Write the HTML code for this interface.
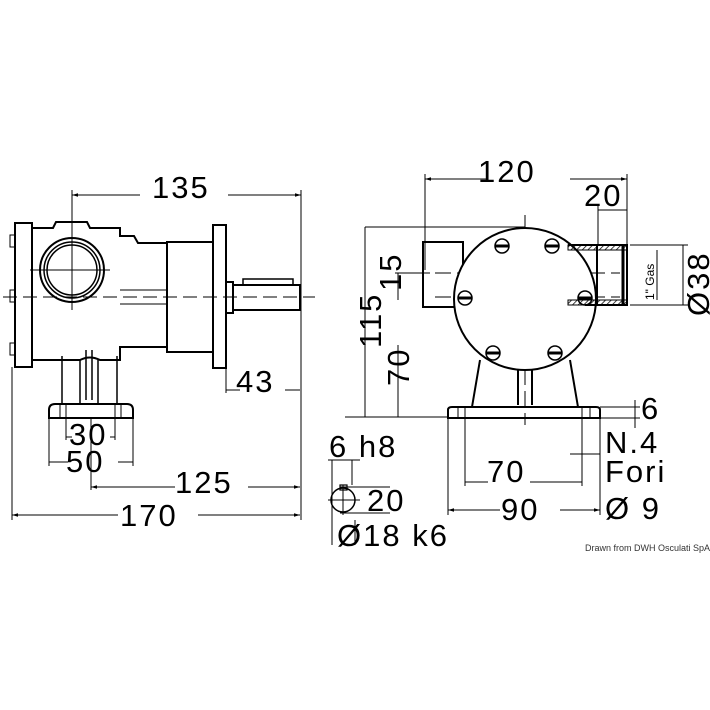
<!DOCTYPE html>
<html><head><style>html,body{margin:0;padding:0;background:#fff}svg{display:block}</style></head>
<body>
<svg width="710" height="710" viewBox="0 0 710 710" xmlns="http://www.w3.org/2000/svg" font-family="Liberation Sans, sans-serif">
<defs>
<pattern id="h" width="4" height="4" patternUnits="userSpaceOnUse" patternTransform="rotate(45)"><line x1="0" y1="0" x2="0" y2="4" stroke="#000" stroke-width="1.5"/></pattern>
<marker id="a" viewBox="0 0 10 10" refX="10" refY="5" markerWidth="8" markerHeight="6" orient="auto-start-reverse"><path d="M0,2 L10,5 L0,8z" fill="#000"/></marker>
</defs>
<rect width="710" height="710" fill="#fff"/>
<g stroke="#000" fill="none" stroke-width="1">
<line x1="72" y1="195" x2="140" y2="195" marker-start="url(#a)"/>
<line x1="228" y1="195" x2="301" y2="195" marker-end="url(#a)"/>
<line x1="72" y1="190" x2="72" y2="310"/>
<line x1="301" y1="190" x2="301" y2="520"/>
<line x1="12" y1="367" x2="12" y2="520"/>
<line x1="12" y1="515" x2="118" y2="515" marker-start="url(#a)"/>
<line x1="198" y1="515" x2="300" y2="515" marker-end="url(#a)"/>
<line x1="91" y1="487" x2="175" y2="487" marker-start="url(#a)"/>
<line x1="248" y1="487" x2="300" y2="487" marker-end="url(#a)"/>
<line x1="91" y1="418" x2="91" y2="490"/>
<line x1="49" y1="418" x2="49" y2="466"/><line x1="133" y1="418" x2="133" y2="466"/>
<line x1="49" y1="462" x2="68" y2="462"/><line x1="118" y1="462" x2="133" y2="462"/>
<line x1="66" y1="410" x2="66" y2="440"/><line x1="115" y1="410" x2="115" y2="440"/>
<line x1="66" y1="437" x2="72" y2="437"/><line x1="110" y1="437" x2="115" y2="437"/>
<line x1="226" y1="368" x2="226" y2="393"/>
<line x1="226" y1="390" x2="240" y2="390"/><line x1="285" y1="390" x2="300" y2="390"/>
<line x1="3" y1="297" x2="315" y2="297" stroke-dasharray="14,6"/>
<line x1="30" y1="270" x2="110" y2="270"/>
<rect x="15" y="223" width="17" height="144" stroke-width="2"/>
<path d="M32 228 H53 L56 222 H87 L90 228 H120 V236 H134 L138 243 H167 V347 H120 V360 H100 Q90 355 80 360 H32" stroke-width="2"/>
<circle cx="72" cy="270" r="32" stroke-width="2"/>
<circle cx="72" cy="270" r="28" stroke-width="1.5"/>
<circle cx="72" cy="270" r="25" stroke-width="1.5"/>
<rect x="167" y="242" width="46" height="110" stroke-width="2"/>
<rect x="213" y="225" width="13" height="143" stroke-width="2"/>
<rect x="226" y="282" width="7" height="31" stroke-width="2"/>
<rect x="233" y="285" width="67" height="25" stroke-width="2"/>
<path d="M243 285 V279 H293 V285" stroke-width="1.5"/>
<line x1="120" y1="290" x2="167" y2="290"/><line x1="120" y1="304" x2="167" y2="304"/>
<path d="M62 356 V404 M117 356 V404 M80 360 V404 M98 360 V404 M86 350 V400 M92 350 V400" stroke-width="1.5"/>
<path d="M49 418 V410 Q49 404 55 404 H127 Q133 404 133 410 V418 Z" stroke-width="2"/>
<line x1="60" y1="404" x2="60" y2="418"/><line x1="66" y1="404" x2="66" y2="418"/><line x1="115" y1="404" x2="115" y2="418"/><line x1="121" y1="404" x2="121" y2="418"/>
<rect x="10" y="235" width="5" height="12"/><rect x="10" y="290" width="5" height="12"/><rect x="10" y="343" width="5" height="12"/>
<line x1="425" y1="179" x2="488" y2="179" marker-start="url(#a)"/>
<line x1="570" y1="179" x2="627" y2="179" marker-end="url(#a)"/>
<line x1="425" y1="174" x2="425" y2="270"/><line x1="627" y1="174" x2="627" y2="245"/>
<line x1="598" y1="210" x2="627" y2="210"/><line x1="598" y1="205" x2="598" y2="245"/>
<line x1="365" y1="227" x2="525" y2="227"/>
<line x1="365" y1="227" x2="365" y2="417"/>
<line x1="345" y1="417" x2="448" y2="417"/>
<line x1="398" y1="273" x2="398" y2="300"/><line x1="398" y1="345" x2="398" y2="417"/>
<line x1="395" y1="273" x2="430" y2="273"/>
<line x1="683" y1="245" x2="683" y2="305"/><line x1="630" y1="245" x2="688" y2="245"/><line x1="630" y1="305" x2="688" y2="305"/>
<line x1="657" y1="250" x2="657" y2="300"/>
<line x1="635" y1="400" x2="635" y2="428"/><line x1="600" y1="407" x2="640" y2="407"/><line x1="600" y1="418" x2="640" y2="418"/>
<line x1="448" y1="418" x2="448" y2="515"/><line x1="600" y1="418" x2="600" y2="515"/>
<line x1="465" y1="418" x2="465" y2="486"/><line x1="582" y1="418" x2="582" y2="486"/>
<line x1="465" y1="482" x2="488" y2="482"/><line x1="530" y1="482" x2="582" y2="482"/>
<line x1="448" y1="510" x2="500" y2="510" marker-start="url(#a)"/><line x1="560" y1="510" x2="600" y2="510" marker-end="url(#a)"/>
<line x1="570" y1="454" x2="600" y2="454"/>
<line x1="525" y1="215" x2="525" y2="425" stroke-dasharray="16,6"/>
<line x1="435" y1="273" x2="620" y2="273" stroke-dasharray="16,6"/>
<line x1="435" y1="297" x2="620" y2="297" stroke-dasharray="16,6"/>
<rect x="423" y="242" width="40" height="65" stroke-width="2"/>
<path d="M480 360 L472 407 M570 360 L578 407 M518 370 V405 M532 370 V405" stroke-width="2"/>
<circle cx="525" cy="299" r="71" fill="#fff" stroke-width="2"/>
<rect x="568" y="245" width="59" height="5" fill="url(#h)"/>
<rect x="568" y="300" width="59" height="5" fill="url(#h)"/>
<path d="M568 245 H627 V305 H585" stroke-width="2"/>
<line x1="597" y1="245" x2="597" y2="305" stroke-width="2"/>
<line x1="623" y1="245" x2="623" y2="305" stroke-width="3"/>
<path d="M448 418 V410 Q448 407 452 407 H596 Q600 407 600 410 V418 Z" stroke-width="2"/>
<line x1="458" y1="407" x2="458" y2="418"/><line x1="465" y1="407" x2="465" y2="418"/><line x1="582" y1="407" x2="582" y2="418"/><line x1="590" y1="407" x2="590" y2="418"/>
<g stroke-width="1.5">
<ellipse cx="502" cy="246" rx="7" ry="7"/><line x1="495" y1="246" x2="509" y2="246" stroke-width="3"/>
<ellipse cx="552" cy="246" rx="7" ry="7"/><line x1="545" y1="246" x2="559" y2="246" stroke-width="3"/>
<ellipse cx="465" cy="298" rx="7" ry="7"/><line x1="458" y1="298" x2="472" y2="298" stroke-width="3"/>
<ellipse cx="585" cy="298" rx="7" ry="7"/><line x1="578" y1="298" x2="592" y2="298" stroke-width="3"/>
<ellipse cx="493" cy="353" rx="7" ry="7"/><line x1="486" y1="353" x2="500" y2="353" stroke-width="3"/>
<ellipse cx="555" cy="353" rx="7" ry="7"/><line x1="548" y1="353" x2="562" y2="353" stroke-width="3"/>
</g>
<circle cx="343" cy="500" r="12" stroke-width="1.5"/>
<rect x="340" y="485" width="7" height="5" stroke-width="1.2"/>
<line x1="328" y1="500" x2="360" y2="500"/><line x1="343" y1="485" x2="343" y2="515"/>
<line x1="332" y1="460" x2="332" y2="545"/><line x1="352" y1="460" x2="352" y2="485"/>
<line x1="328" y1="460" x2="360" y2="460"/>
<line x1="340" y1="487" x2="390" y2="487"/><line x1="340" y1="513" x2="390" y2="513"/>
<line x1="355" y1="520" x2="355" y2="545"/>
</g>
<g font-size="31" fill="#000" letter-spacing="2">
<text x="152" y="198">135</text>
<text x="478" y="182">120</text>
<text x="584" y="206">20</text>
<text x="236" y="392">43</text>
<text x="69" y="445">30</text>
<text x="66" y="472">50</text>
<text x="175" y="493">125</text>
<text x="120" y="526">170</text>
<text x="487" y="482">70</text>
<text x="501" y="520">90</text>
<text x="641" y="419">6</text>
<text x="605" y="453">N.4</text>
<text x="605" y="482">Fori</text>
<text x="605" y="519">Ø 9</text>
<text x="329" y="457">6 h8</text>
<text x="367" y="511">20</text>
<text x="337" y="546">Ø18 k6</text>
<text transform="translate(381,348) rotate(-90)">115</text>
<text transform="translate(409,386) rotate(-90)">70</text>
<text transform="translate(401,291) rotate(-90)">15</text>
<text transform="translate(709,316) rotate(-90)">Ø38</text>
</g>
<text transform="translate(654,300) rotate(-90)" font-size="12">1" Gas</text>
<text x="585" y="551" font-size="9" fill="#333">Drawn from DWH Osculati SpA</text>
</svg>
</body></html>
